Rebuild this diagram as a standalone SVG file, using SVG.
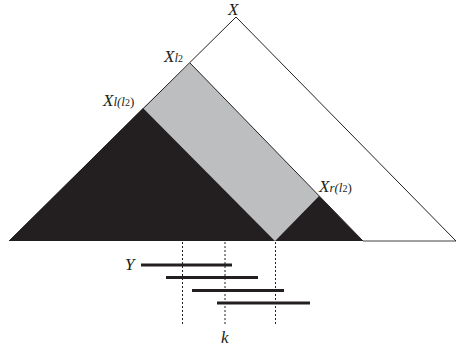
<svg xmlns="http://www.w3.org/2000/svg" width="456" height="354" viewBox="0 0 456 354">
<style>
.lbl{font-family:"Liberation Serif","DejaVu Serif",serif;font-style:italic;font-size:17px;fill:#231f20}
.sub{font-size:13px}
.sub2{font-size:10px;font-style:normal}
.edge{fill:none;stroke:#231f20;stroke-width:1}
.dark{fill:#231f20}
.grey{fill:#bcbec0}
.dot{stroke:#231f20;stroke-width:1;stroke-dasharray:2 2;fill:none}
.bar{stroke:#231f20;stroke-width:3.2}
</style>
<rect width="456" height="354" fill="#fff"/>
<g id="tree">
<polygon class="grey" points="143,108 190,63 319,196 275,241"/>
<polygon class="dark" points="9,241 143,108 275,241"/>
<polygon class="dark" points="275,241 319,196 363,241"/>
<line x1="363" y1="241" x2="456" y2="241" stroke="#808080" stroke-width="1.6"/>
<polyline class="edge" points="9,241 236,17 456,241"/>
<line class="edge" x1="190" y1="63" x2="363" y2="241"/>
</g>
<g id="dotted">
<line class="dot" x1="182.5" y1="242" x2="182.5" y2="324"/>
<line class="dot" x1="225" y1="242" x2="225" y2="324"/>
<line class="dot" x1="275.5" y1="242" x2="275.5" y2="324"/>
</g>
<g id="bars">
<line class="bar" x1="141" y1="265" x2="232" y2="265"/>
<line class="bar" x1="166" y1="277.5" x2="258" y2="277.5"/>
<line class="bar" x1="192" y1="290.5" x2="284" y2="290.5"/>
<line class="bar" x1="217" y1="303" x2="310" y2="303"/>
</g>
<g id="labels">
<text class="lbl" x="228" y="15">X</text>
<text class="lbl" x="164" y="62">X<tspan class="sub">l</tspan><tspan class="sub2">2</tspan></text>
<text class="lbl" x="103" y="106">X<tspan class="sub">l(l</tspan><tspan class="sub2">2</tspan><tspan class="sub" font-style="normal">)</tspan></text>
<text class="lbl" x="319" y="192">X<tspan class="sub">r(l</tspan><tspan class="sub2">2</tspan><tspan class="sub" font-style="normal">)</tspan></text>
<text class="lbl" x="125" y="270">Y</text>
<text class="lbl" x="221" y="343">k</text>
</g>
</svg>
